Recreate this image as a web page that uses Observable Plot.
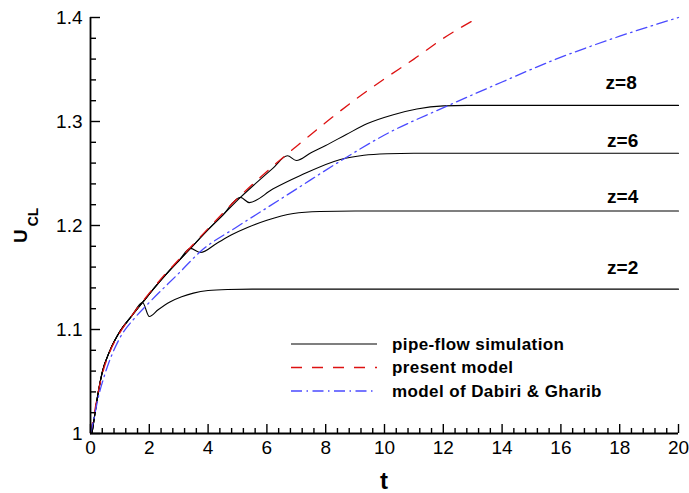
<!DOCTYPE html>
<html>
<head>
<meta charset="utf-8">
<script src="https://cdn.jsdelivr.net/npm/d3@7"></script>
<script src="https://cdn.jsdelivr.net/npm/@observablehq/plot@0.6"></script>
<style>
  html, body { margin: 0; padding: 0; background: #fff; }
  #chart { position: relative; width: 689px; height: 493px; }
</style>
</head>
<body>
<div id="chart"></div>
<script>
// ---- data ----
const xTicks = [0, 2, 4, 6, 8, 10, 12, 14, 16, 18, 20];
const xTickLabels = ["0", "2", "4", "6", "8", "10", "12", "14", "16", "18", "20"];
const yTicks = [1.0, 1.1, 1.2, 1.3, 1.4];
const yTickLabels = ["1", "1.1", "1.2", "1.3", "1.4"];

// present model (red dashed)
const modelT = [0, 0.1, 0.25, 0.4, 0.65, 1, 1.5, 2, 2.5, 3, 3.5, 4, 5, 6, 6.7, 7, 8, 9, 10, 11, 12, 13.2];
const modelU = [1, 1.015, 1.038, 1.057, 1.078, 1.097, 1.117, 1.135, 1.152, 1.167, 1.182, 1.197, 1.226, 1.252, 1.269, 1.276, 1.299, 1.321, 1.341, 1.360, 1.380, 1.400];

// model of Dabiri & Gharib (blue dash-dot)
const dgT = [0, 0.1, 0.25, 0.5, 1, 1.5, 2, 3, 3.74, 5, 6, 7, 8.5, 10, 12.14, 14, 15.75, 18, 20];
const dgU = [1, 1.012, 1.033, 1.058, 1.092, 1.111, 1.126, 1.154, 1.175, 1.199, 1.217, 1.235, 1.262, 1.287, 1.315, 1.338, 1.359, 1.382, 1.400];

// pipe-flow simulation: common early part
const baseT = [0.05, 0.15, 0.26, 0.4, 0.65, 1.02, 1.4, 1.77, 2.2, 2.7, 3.0, 3.4, 4.0, 4.5, 5.1, 5.6, 6.2, 6.7];
const baseU = [1.000, 1.019, 1.039, 1.059, 1.079, 1.099, 1.113, 1.126, 1.141, 1.157, 1.166, 1.178, 1.196, 1.210, 1.227, 1.240, 1.255, 1.267];

// pipe-flow simulation: branches after the stroke ends
const z2T = [2.0, 2.3, 2.7, 3.1, 3.5, 4.0, 4.66, 5.5, 20];
const z2U = [1.1125, 1.119, 1.1265, 1.1315, 1.135, 1.1375, 1.1385, 1.1388, 1.1388];
const z4T = [3.74, 4.3, 4.8, 5.34, 6.0, 6.9, 7.8, 9, 20];
const z4U = [1.174, 1.183, 1.191, 1.198, 1.205, 1.2115, 1.2135, 1.214, 1.214];
const z6T = [5.4, 6.2, 7.14, 8.5, 9.3, 10.1, 11, 20];
const z6U = [1.222, 1.235, 1.248, 1.2635, 1.2675, 1.269, 1.2695, 1.2695];
const z8T = [7.0, 7.5, 8.0, 8.7, 9.42, 10.3, 11.1, 12.0, 12.8, 20];
const z8U = [1.2625, 1.270, 1.277, 1.2875, 1.298, 1.3065, 1.312, 1.315, 1.3155, 1.3155];
const zKinkT = [1.77, 3.4, 5.1, 6.7];

const zLabels = ["z=8", "z=6", "z=4", "z=2"];
const zLabelT = [18.05, 18.1, 18.1, 18.1];
const zLabelU = [1.3375, 1.2817, 1.2279, 1.1596];

const legendLabels = ["pipe-flow simulation", "present model", "model of Dabiri & Gharib"];

// ---- build tables ----
const model = modelT.map((t, i) => ({t, u: modelU[i]}));
const dg = dgT.map((t, i) => ({t, u: dgU[i]}));
const branches = [[z2T, z2U], [z4T, z4U], [z6T, z6U], [z8T, z8U]];
const sim = [];
branches.forEach(([bt, bu], k) => {
  baseT.forEach((t, i) => { if (t <= zKinkT[k] + 1e-9) sim.push({z: k, t, u: baseU[i]}); });
  bt.forEach((t, i) => sim.push({z: k, t, u: bu[i]}));
});
const zlab = zLabels.map((s, i) => ({s, t: zLabelT[i], u: zLabelU[i]}));

const xMinor = d3.range(0, 20.0001, 0.4).filter(v => Math.abs(v / 2 - Math.round(v / 2)) > 1e-6);
const yMinor = d3.range(1.0, 1.40001, 0.02).filter(v => Math.abs(v * 10 - Math.round(v * 10)) > 1e-6);

const RED = "#dd1111";
const BLUE = "#4a4aff";
const FONT = "'Liberation Sans', Arial, Helvetica, sans-serif";

// layout
const W = 689, H = 493, ML = 90, MR = 11, MT = 17, MB = 60;
const xDom = [0, 20], yDom = [1, 1.4];
// tick lengths in pixels converted to data units, so ticks use Plot's scales
const pxX = (xDom[1] - xDom[0]) / (W - ML - MR);
const pxY = (yDom[1] - yDom[0]) / (H - MT - MB);

const tickStyle = {stroke: "#000", strokeWidth: 1.4};

const plot = Plot.plot({
  width: W,
  height: H,
  marginLeft: ML,
  marginRight: MR,
  marginTop: MT,
  marginBottom: MB,
  x: {domain: xDom, axis: null},
  y: {domain: yDom, axis: null},
  style: {fontFamily: FONT, background: "#fff"},
  marks: [
    Plot.line(sim, {x: "t", y: "u", z: "z", stroke: "#000", strokeWidth: 1.1, curve: "monotone-x"}),
    Plot.line(model, {x: "t", y: "u", stroke: RED, strokeWidth: 1.3, strokeDasharray: "11,10", curve: "monotone-x"}),
    Plot.line(dg, {x: "t", y: "u", stroke: BLUE, strokeWidth: 1.3, strokeDasharray: "11,4.5,1.5,4.5", curve: "monotone-x"}),
    Plot.text(zlab, {x: "t", y: "u", text: "s", fontSize: 19, fontWeight: "bold", fill: "#000", letterSpacing: "1px"}),
    // inward ticks
    Plot.ruleX(xTicks, {x: d => d, y1: yDom[0], y2: yDom[0] + 9 * pxY, ...tickStyle}),
    Plot.ruleX(xMinor, {x: d => d, y1: yDom[0], y2: yDom[0] + 5 * pxY, ...tickStyle}),
    Plot.ruleY(yTicks, {y: d => d, x1: xDom[0], x2: xDom[0] + 10 * pxX, ...tickStyle}),
    Plot.ruleY(yMinor, {y: d => d, x1: xDom[0], x2: xDom[0] + 6 * pxX, ...tickStyle}),
    // axis lines
    Plot.ruleX([0], {stroke: "#000", strokeWidth: 1.8}),
    Plot.ruleY([1], {stroke: "#000", strokeWidth: 1.8}),
    // tick labels
    Plot.text(xTicks, {x: d => d, frameAnchor: "bottom", dy: 20, text: (d, i) => xTickLabels[i], fontSize: 19, fill: "#000"}),
    Plot.text(yTicks, {y: d => d, frameAnchor: "left", dx: -8, textAnchor: "end", text: (d, i) => yTickLabels[i], fontSize: 19, fill: "#000"})
  ]
});

document.getElementById("chart").appendChild(plot);

const svg = d3.select(plot);

// axis titles
svg.append("text")
  .attr("x", 384).attr("y", 489)
  .attr("text-anchor", "middle")
  .attr("font-family", FONT).attr("font-weight", "bold").attr("font-size", 24)
  .text("t");

const yl = svg.append("text")
  .attr("transform", "translate(27,243) rotate(-90)")
  .attr("text-anchor", "start")
  .attr("font-family", FONT).attr("font-weight", "bold").attr("font-size", 19);
yl.append("tspan").text("U");
yl.append("tspan").attr("dx", 3).attr("dy", 11).attr("font-size", 14).text("CL");

// legend
const legY = [344, 367.5, 391];
const legStyles = [
  {stroke: "#000", dash: null, w: 1.1},
  {stroke: RED, dash: "11,10", w: 1.3},
  {stroke: BLUE, dash: "11,4.5,1.5,4.5", w: 1.3}
];
const lg = svg.append("g").attr("text-anchor", "start");
legendLabels.forEach((lab, i) => {
  const st = legStyles[i];
  const ln = lg.append("line")
    .attr("x1", 291).attr("x2", 377).attr("y1", legY[i]).attr("y2", legY[i])
    .attr("stroke", st.stroke).attr("stroke-width", st.w);
  if (st.dash) ln.attr("stroke-dasharray", st.dash);
  lg.append("text")
    .attr("x", 392).attr("y", legY[i]).attr("dy", "0.35em")
    .attr("text-anchor", "start")
    .attr("font-family", FONT).attr("font-weight", "bold").attr("font-size", 17)
    .attr("letter-spacing", "0.4px")
    .text(lab);
});
</script>
</body>
</html>
